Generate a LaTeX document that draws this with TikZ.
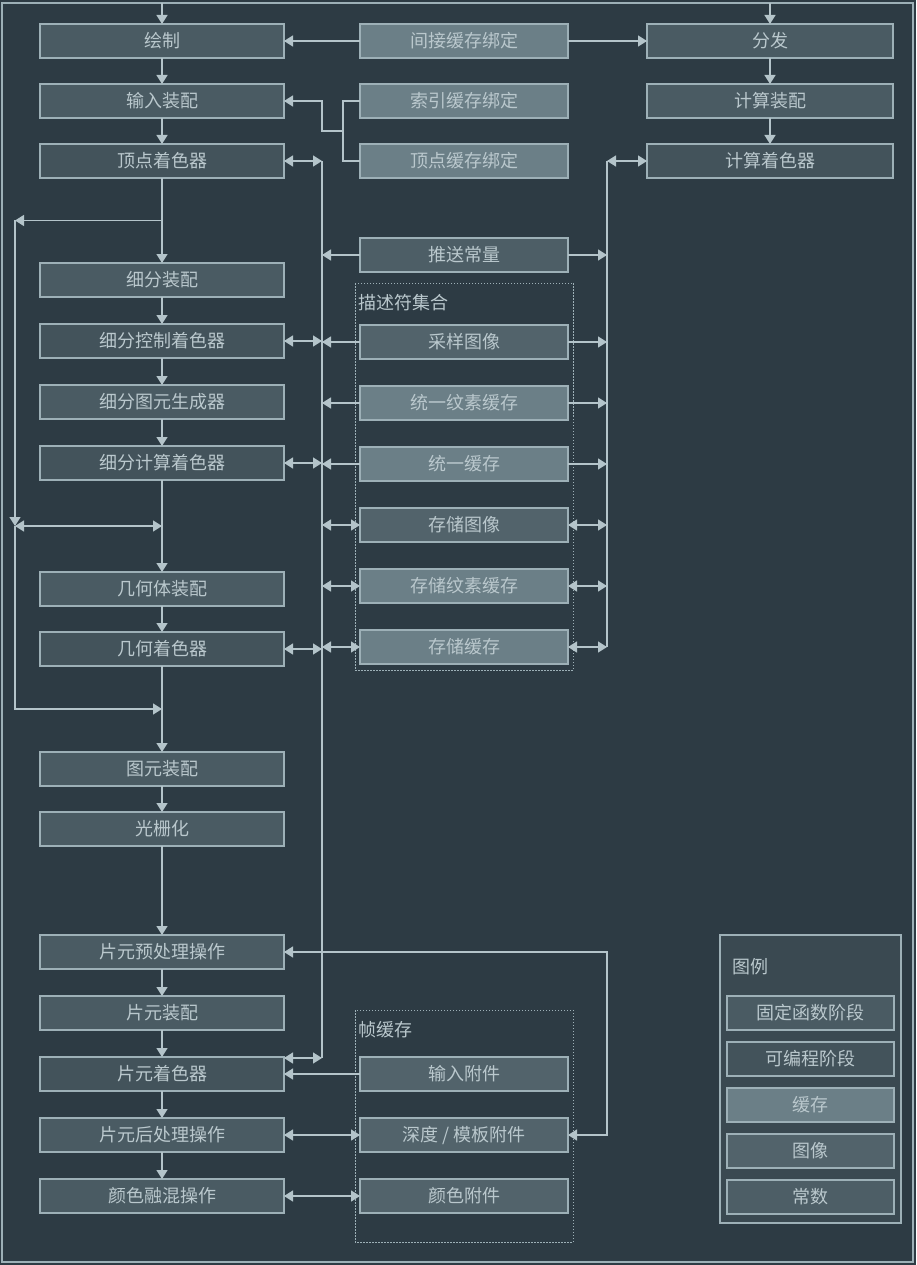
\documentclass[tikz,border=0pt]{standalone}
\usepackage{fontspec}
\newfontfamily\cjk{Noto Sans CJK SC}
\usetikzlibrary{positioning}
\usetikzlibrary{calc}
\usetikzlibrary{arrows.meta}

\definecolor{bgcol}{HTML}{2D3B44}
\definecolor{linecol}{HTML}{B4C4CA}
\definecolor{boxline}{HTML}{9DB0B7}
\definecolor{textcol}{HTML}{BAC8CD}
\definecolor{fixedcol}{HTML}{4A5B63}
\definecolor{progcol}{HTML}{43535B}
\definecolor{bufcol}{HTML}{6B7F87}
\definecolor{imgcol}{HTML}{52636B}
\definecolor{constcol}{HTML}{4D5E66}
\definecolor{legendbg}{HTML}{3A4951}

\begin{document}
\begin{tikzpicture}[x=1pt, y=-1pt, line width=1.4pt, color=linecol,
        >={Triangle[width=11pt,length=9pt]},
        box/.style={rectangle, draw=boxline, line width=1.2pt, text=textcol, font=\cjk\fontsize{18}{20}\selectfont, minimum height=34pt, inner sep=0pt, outer sep=0pt},
        stage/.style={box, minimum width=244pt},
        cstage/.style={box, minimum width=246pt},
        res/.style={box, minimum width=208pt},
        legbox/.style={box, minimum width=167pt},
        title/.style={anchor=west, inner sep=0pt, text=textcol, font=\cjk\fontsize{18}{20}\selectfont},
        fixed/.style={fill=fixedcol},
        prog/.style={fill=progcol},
        buf/.style={fill=bufcol},
        img/.style={fill=imgcol},
        const/.style={fill=constcol},
        dotframe/.style={draw=boxline, line width=1pt, dash pattern=on 1.5pt off 1.5pt},
        node distance=27pt]

        \useasboundingbox (0,0) rectangle (916,1265);
        \fill[bgcol] (0,0) rectangle (916,1265);
        \draw[boxline] (2,3) rectangle (913,1262);

        \node[stage, fixed] (drawcmd) at (162,41) {绘制};
        \node[stage, fixed] (inasm) [below=26pt of drawcmd] {输入装配};
        \node[stage, prog] (vshader) [below=26pt of inasm] {顶点着色器};

        \node[stage, fixed] (tessasm) at (162,280) {细分装配};
        \node[stage, prog] (tcshader) [below=of tessasm] {细分控制着色器};
        \node[stage, fixed] (tessgen) [below=of tcshader] {细分图元生成器};
        \node[stage, prog] (teshader) [below=of tessgen] {细分计算着色器};

        \node[stage, fixed] (geoasm) at (162,589) {几何体装配};
        \node[stage, prog] (gshader) [below=26pt of geoasm] {几何着色器};

        \node[stage, fixed] (primasm) at (162,769) {图元装配};
        \node[stage, fixed] (raster) [below=26pt of primasm] {光栅化};

        \node[stage, fixed] (prefrag) at (162,952) {片元预处理操作};
        \node[stage, fixed] (fragasm) [below=of prefrag] {片元装配};
        \node[stage, prog] (fshader) [below=of fragasm] {片元着色器};
        \node[stage, fixed] (postfrag) [below=of fshader] {片元后处理操作};
        \node[stage, fixed] (blend) [below=of postfrag] {颜色融混操作};

        \node[res, buf] (indbuf) at (464,41) {间接缓存绑定};
        \node[res, buf] (idxbuf) [below=26pt of indbuf] {索引缓存绑定};
        \node[res, buf] (vtxbuf) [below=26pt of idxbuf] {顶点缓存绑定};
        \node[res, const] (pushc) at (464,255) {推送常量};

        \node[title] (dstitle) at (358,303) {描述符集合};
        \node[res, img] (sampimg) at (464,342) {采样图像};
        \node[res, buf] (unitexbuf) [below=of sampimg] {统一纹素缓存};
        \node[res, buf] (unibuf) [below=of unitexbuf] {统一缓存};
        \node[res, img] (storimg) [below=of unibuf] {存储图像};
        \node[res, buf] (stortexbuf) [below=of storimg] {存储纹素缓存};
        \node[res, buf] (storbuf) [below=of stortexbuf] {存储缓存};
        \draw[dotframe] (355,283) rectangle (573,670);

        \node[title] (fbtitle) at (358,1030) {帧缓存};
        \node[res, img] (inattach) at (464,1074) {输入附件};
        \node[res, img] (dsattach) [below=of inattach] {深度 / 模板附件};
        \node[res, img] (colattach) [below=of dsattach] {颜色附件};
        \draw[dotframe] (355,1010) rectangle (573,1242);

        \node[cstage, fixed] (dispatch) at (770,41) {分发};
        \node[cstage, fixed] (compasm) [below=26pt of dispatch] {计算装配};
        \node[cstage, prog] (cshader) [below=26pt of compasm] {计算着色器};

        \draw[draw=boxline, line width=1.2pt, fill=legendbg] (720,935) rectangle (901,1223);
        \node[title] (legtitle) at (732,967) {图例};
        \node[legbox, fixed] (legfixed) at (810.5,1013) {固定函数阶段};
        \node[legbox, prog] (legprog) [below=12pt of legfixed] {可编程阶段};
        \node[legbox, buf] (legbuf) [below=12pt of legprog] {缓存};
        \node[legbox, img] (legimg) [below=12pt of legbuf] {图像};
        \node[legbox, const] (legconst) [below=12pt of legimg] {常数};

        \coordinate (topL) at (162,3);
        \coordinate (topR) at (770,3);
        \coordinate (busL) at (322,0);
        \coordinate (busR) at (607,0);
        \coordinate (loopX) at (15,0);
        \coordinate (fsin) at ($(fshader.east)+(0,-16)$);
        \coordinate (vsplit) at ($(vshader.south)!0.5!(tessasm.north)$);
        \coordinate (tjoin) at ($(teshader.south)!0.5!(geoasm.north)$);
        \coordinate (gjoin) at ($(gshader.south)!0.5!(primasm.north)$);
        \coordinate (bindjoin) at ($(idxbuf.west)!0.5!(vtxbuf.west)+(-17,0)$);

        \draw[->] (topL) -- (drawcmd);
        \draw[->] (drawcmd) -- (inasm);
        \draw[->] (inasm) -- (vshader);
        \draw[->] (vshader) -- (tessasm);
        \draw[->] (tessasm) -- (tcshader);
        \draw[->] (tcshader) -- (tessgen);
        \draw[->] (tessgen) -- (teshader);
        \draw[->] (teshader) -- (geoasm);
        \draw[->] (geoasm) -- (gshader);
        \draw[->] (gshader) -- (primasm);
        \draw[->] (primasm) -- (raster);
        \draw[->] (raster) -- (prefrag);
        \draw[->] (prefrag) -- (fragasm);
        \draw[->] (fragasm) -- (fshader);
        \draw[->] (fshader) -- (postfrag);
        \draw[->] (postfrag) -- (blend);

        \draw[->] (topR) -- (dispatch);
        \draw[->] (dispatch) -- (compasm);
        \draw[->] (compasm) -- (cshader);

        \draw[->] (vsplit) -- (vsplit -| loopX);
        \draw[->] (vsplit -| loopX) -- (tjoin -| loopX);
        \draw[<->] (tjoin -| loopX) -- (tjoin);
        \draw[->] (tjoin -| loopX) |- (gjoin);

        \draw[->] (indbuf) -- (drawcmd);
        \draw[->] (indbuf) -- (dispatch);
        \draw (idxbuf.west) -- ++(-17,0) |- (vtxbuf.west);
        \draw[->] (bindjoin) -- (bindjoin -| busL) |- (inasm.east);

        \draw (vshader.east -| busL) -- (fsin -| busL);
        \draw (cshader.west -| busR) -- (storbuf.east -| busR);

        \draw[<->] (vshader) -- (vshader.east -| busL);
        \draw[<->] (tcshader) -- (tcshader.east -| busL);
        \draw[<->] (teshader) -- (teshader.east -| busL);
        \draw[<->] (gshader) -- (gshader.east -| busL);
        \draw[<->] (fsin) -- (fsin -| busL);
        \draw[<->] (cshader) -- (cshader.west -| busR);

        \draw[->] (pushc) -- (pushc.west -| busL);
        \draw[->] (pushc) -- (pushc.east -| busR);
        \draw[->] (sampimg) -- (sampimg.west -| busL);
        \draw[->] (sampimg) -- (sampimg.east -| busR);
        \draw[->] (unitexbuf) -- (unitexbuf.west -| busL);
        \draw[->] (unitexbuf) -- (unitexbuf.east -| busR);
        \draw[->] (unibuf) -- (unibuf.west -| busL);
        \draw[->] (unibuf) -- (unibuf.east -| busR);
        \draw[<->] (storimg) -- (storimg.west -| busL);
        \draw[<->] (storimg) -- (storimg.east -| busR);
        \draw[<->] (stortexbuf) -- (stortexbuf.west -| busL);
        \draw[<->] (stortexbuf) -- (stortexbuf.east -| busR);
        \draw[<->] (storbuf) -- (storbuf.west -| busL);
        \draw[<->] (storbuf) -- (storbuf.east -| busR);

        \draw[->] (inattach) -- (fshader);
        \draw[<->] (postfrag) -- (dsattach);
        \draw[<->] (blend) -- (colattach);
        \draw[<->] (dsattach.east) -- (dsattach.east -| busR) |- (prefrag.east);
    \end{tikzpicture}
\end{document}
